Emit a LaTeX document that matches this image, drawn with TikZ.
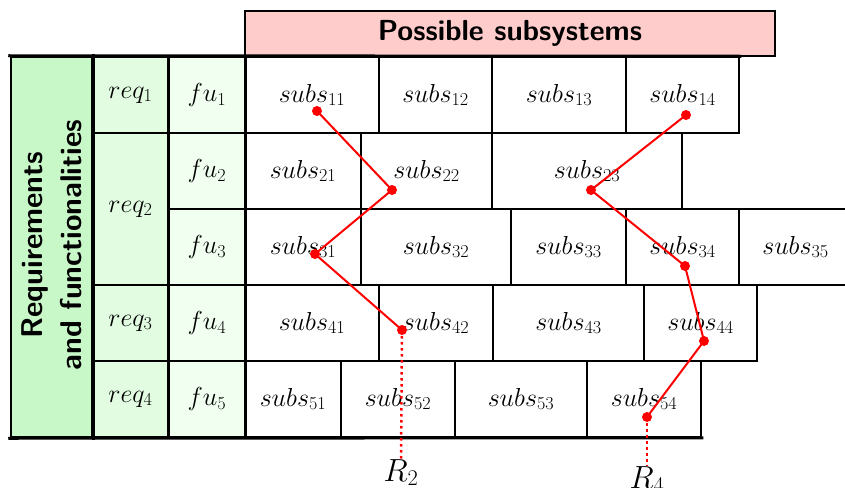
\RequirePackage{fix-cm}
\documentclass[tikz,border=0pt]{standalone}
\definecolor{hdrpink}{RGB}{255,204,204}
\definecolor{bigreen}{RGB}{200,247,200}
\definecolor{reqgreen}{RGB}{226,252,226}
\definecolor{fugreen}{RGB}{241,255,241}
\newcommand\cellnode[7]{\node[cell, fill=#7, minimum width={(#3-#2)*1pt}, minimum height={(#5-#4)*1pt}] (#1) at ({(#2+#3)/2},{(#4+#5)/2}) {#6};}
\begin{document}
\begin{tikzpicture}[x=1pt,y=-1pt,
  cell/.style={draw=black, line width=1.5pt, inner sep=0pt, font=\fontsize{26}{30}\selectfont},
  frame/.style={line width=3pt, line cap=rect},
  dot/.style={circle, fill=red, draw=none, inner sep=0pt, minimum size=10pt},
  redpath/.style={red, line width=2pt},
  reddots/.style={red, line width=2.5pt, dash pattern=on 2.5pt off 3.5pt},
  rlabel/.style={inner sep=0pt, anchor=base, font=\fontsize{32}{36}\selectfont}]
\useasboundingbox (0,0) rectangle (845,487);
\fill[white] (0,0) rectangle (845,487);

% header
\node[draw=black, line width=2pt, fill=hdrpink, minimum width=530pt, minimum height=45pt, inner sep=0pt,
      font=\fontsize{29}{32}\selectfont\sffamily\bfseries] (hdr) at (510,33.5) {Possible subsystems};

% left block
\node[draw=black, line width=2.5pt, fill=bigreen, minimum width=81pt, minimum height=380pt, inner sep=0pt] (big) at (51.5,247) {};
\node[rotate=90, align=center, inner sep=0pt, font=\fontsize{30}{39}\selectfont\sffamily\bfseries] (bigtxt) at (51.5,245) {Requirements\\and functionalities};

% requirements
\cellnode{q1}{92}{169}{57}{133}{$req_1$}{reqgreen}
\cellnode{q2}{92}{169}{133}{285}{$req_2$}{reqgreen}
\cellnode{q3}{92}{169}{285}{361}{$req_3$}{reqgreen}
\cellnode{q4}{92}{169}{361}{437}{$req_4$}{reqgreen}
% functionalities
\cellnode{f1}{169}{245}{57}{133}{$fu_1$}{fugreen}
\cellnode{f2}{169}{245}{133}{209}{$fu_2$}{fugreen}
\cellnode{f3}{169}{245}{209}{285}{$fu_3$}{fugreen}
\cellnode{f4}{169}{245}{285}{361}{$fu_4$}{fugreen}
\cellnode{f5}{169}{245}{361}{437}{$fu_5$}{fugreen}

% subsystems
\cellnode{s11}{245}{379}{57}{133}{$subs_{11}$}{white}
\cellnode{s12}{379}{492}{57}{133}{$subs_{12}$}{white}
\cellnode{s13}{492}{626}{57}{133}{$subs_{13}$}{white}
\cellnode{s14}{626}{739}{57}{133}{$subs_{14}$}{white}

\cellnode{s21}{245}{361}{133}{209}{$subs_{21}$}{white}
\cellnode{s22}{361}{492}{133}{209}{$subs_{22}$}{white}
\cellnode{s23}{492}{682}{133}{209}{$subs_{23}$}{white}

\cellnode{s31}{245}{361}{209}{285}{$subs_{31}$}{white}
\cellnode{s32}{361}{511}{209}{285}{$subs_{32}$}{white}
\cellnode{s33}{511}{626}{209}{285}{$subs_{33}$}{white}
\cellnode{s34}{626}{739}{209}{285}{$subs_{34}$}{white}
\cellnode{s35}{739}{852}{209}{285}{$subs_{35}$}{white}

\cellnode{s41}{245}{379}{285}{361}{$subs_{41}$}{white}
\cellnode{s42}{379}{493}{285}{361}{$subs_{42}$}{white}
\cellnode{s43}{493}{644}{285}{361}{$subs_{43}$}{white}
\cellnode{s44}{644}{757}{285}{361}{$subs_{44}$}{white}

\cellnode{s51}{245}{341}{361}{437}{$subs_{51}$}{white}
\cellnode{s52}{341}{455}{361}{437}{$subs_{52}$}{white}
\cellnode{s53}{455}{587}{361}{437}{$subs_{53}$}{white}
\cellnode{s54}{587}{701}{361}{437}{$subs_{54}$}{white}

% thick frame lines
\draw[frame] (big.north east) -- (big.south east);
\draw[frame] (f1.north west) -- (f5.south west);
\draw[frame] (f1.north east) -- (f5.south east);
\draw[frame] (big.south west) -- (s54.south east);
\draw[frame] (big.north west) -- (s14.north east);

% red paths
\node[dot] (a1) at (317,111) {};
\node[dot] (a2) at (392,190) {};
\node[dot] (a3) at (315,254) {};
\node[dot] (a4) at (402,330) {};
\node[dot] (b1) at (686,115) {};
\node[dot] (b2) at (591,190) {};
\node[dot] (b3) at (685,266) {};
\node[dot] (b4) at (704,341) {};
\node[dot] (b5) at (647,417) {};
\draw[redpath] (a1.center) -- (a2.center) -- (a3.center) -- (a4.center);
\draw[redpath] (b1.center) -- (b2.center) -- (b3.center) -- (b4.center) -- (b5.center);

\node[rlabel] (R2) at (401,481) {$R_2$};
\node[rlabel] (R4) at (647,488) {$R_4$};
\draw[reddots] (a4.center) -- (R2.north);
\draw[reddots] (b5.center) -- (R4.north);
\end{tikzpicture}
\end{document}
